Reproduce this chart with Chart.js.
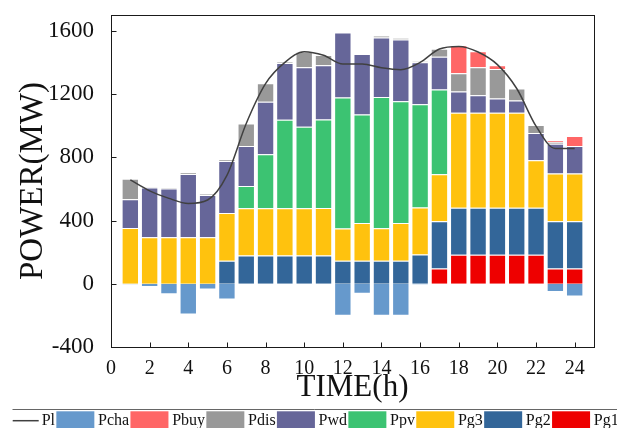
<!DOCTYPE html>
<html>
<head>
<meta charset="utf-8">
<script src="https://cdn.jsdelivr.net/npm/chart.js@4"></script>
<style>
  html, body { margin: 0; padding: 0; background: #fff; overflow: hidden; }
  #wrap { width: 617px; height: 428px; overflow: hidden; }
</style>
</head>
<body>
<div id="wrap"><canvas id="c" width="617" height="428"></canvas></div>
<script>
// ---- data ----
const hours = [1,2,3,4,5,6,7,8,9,10,11,12,13,14,15,16,17,18,19,20,21,22,23,24];
const Pl   = [657,588,540,508,530,686,1014,1266,1400,1468,1445,1390,1390,1366,1354,1400,1485,1501,1466,1386,1235,997,855,855];
const Pg1  = [0,0,0,0,0,0,0,0,0,0,0,0,0,0,0,0,97,183,183,183,183,183,97,97];
const Pg2  = [0,0,0,0,0,146,178,178,178,178,178,146,146,146,146,185,298,298,298,298,298,298,298,298];
const Pg3  = [353,294,294,294,294,301,299,299,299,299,302,203,238,205,238,298,298,600,600,600,600,300,302,302];
const Ppv  = [0,0,0,0,0,0,142,342,560,516,559,829,687,831,771,653,535,0,0,0,0,0,0,0];
const Pwd  = [182,315,309,401,267,330,252,332,359,376,343,412,382,376,390,265,208,135,111,91,78,172,189,174];
const Pdis = [130,4,4,8,6,8,143,118,7,99,65,0,0,11,11,6,51,115,177,187,76,51,11,0];
const Pbuy = [0,0,0,0,0,0,0,0,0,0,0,0,0,0,0,0,0,177,101,23,0,0,8,63];
const Pcha = [-5,-21,-67,-195,-36,-99,0,0,0,0,0,-202,-63,-202,-202,-6,0,0,0,0,0,0,-52,-80];
const xTicks = [0,2,4,6,8,10,12,14,16,18,20,22,24];
const yTicks = [-400,0,400,800,1200,1600];
const legendOrder = ['Pl','Pcha','Pbuy','Pdis','Pwd','Ppv','Pg3','Pg2','Pg1'];

const colors = {
  Pcha: '#6699CC', Pbuy: '#FF6666', Pdis: '#999999', Pwd: '#666699',
  Ppv: '#3CC372', Pg3: '#FFC20E', Pg2: '#336699', Pg1: '#EE0000', Pl: '#404040'
};
const SERIF = '"Liberation Serif", "Times New Roman", serif';

function pts(arr) { return hours.map((h, i) => ({x: h, y: arr[i]})); }
function bar(label, arr) {
  return {
    type: 'bar', label, data: pts(arr),
    backgroundColor: colors[label],
    borderColor: 'rgba(255,255,255,0.45)', borderWidth: 1,
    barPercentage: 1.0, categoryPercentage: 0.9
  };
}

const datasets = [
  {
    type: 'line', label: 'Pl', data: pts(Pl), order: -1,
    borderColor: colors.Pl, borderWidth: 1.5, pointRadius: 0,
    cubicInterpolationMode: 'monotone', fill: false
  },
  bar('Pg1', Pg1), bar('Pg2', Pg2), bar('Pg3', Pg3), bar('Ppv', Ppv),
  bar('Pwd', Pwd), bar('Pdis', Pdis), bar('Pbuy', Pbuy), bar('Pcha', Pcha)
];

const framePlugin = {
  id: 'frame',
  afterDraw(chart) {
    const {ctx, chartArea: a, scales} = chart;
    const L = Math.round(a.left) + 0.5, R = Math.round(a.right) + 0.5;
    const T = Math.round(a.top) + 0.5, B = Math.round(a.bottom) + 0.5;
    ctx.save();
    ctx.strokeStyle = '#1a1a1a';
    ctx.lineWidth = 1;
    ctx.strokeRect(L, T, R - L, B - T);
    ctx.beginPath();
    xTicks.forEach(v => {
      const px = Math.round(scales.x.getPixelForValue(v)) + 0.5;
      ctx.moveTo(px, B); ctx.lineTo(px, B - 5);
    });
    yTicks.forEach(v => {
      const py = Math.round(scales.y.getPixelForValue(v)) + 0.5;
      ctx.moveTo(L, py); ctx.lineTo(L + 5, py);
    });
    ctx.stroke();

    // legend strip
    const top = 409.5;
    ctx.strokeStyle = '#666';
    ctx.beginPath(); ctx.moveTo(12.5, top); ctx.lineTo(chart.width, top); ctx.stroke();
    ctx.font = '16px ' + SERIF;
    ctx.fillStyle = '#111';
    ctx.textBaseline = 'alphabetic';
    let x = 12.7;
    const base = 425.3;
    legendOrder.forEach((lab) => {
      const ds = chart.data.datasets.find(d => d.label === lab);
      if (ds.type === 'line') {
        ctx.strokeStyle = ds.borderColor; ctx.lineWidth = 1.5;
        ctx.beginPath(); ctx.moveTo(x, 420.7); ctx.lineTo(x + 26, 420.7); ctx.stroke();
        x += 26 + 3;
      } else {
        ctx.fillStyle = ds.backgroundColor;
        ctx.fillRect(x, 411.3, 38, 22);
        x += 38 + 3.7;
      }
      ctx.fillStyle = '#111';
      ctx.fillText(lab, x, base);
      x += ctx.measureText(lab).width + 1.3;
    });
    ctx.restore();
  }
};

new Chart(document.getElementById('c'), {
  data: { datasets },
  options: {
    responsive: false,
    devicePixelRatio: 1,
    animation: false,
    layout: { padding: { top: 15, right: 23, bottom: 19, left: 0 } },
    plugins: { legend: { display: false }, tooltip: { enabled: false } },
    scales: {
      x: {
        type: 'linear', min: 0, max: 25, offset: false, stacked: true,
        afterBuildTicks: s => { s.ticks = xTicks.map(v => ({value: v})); },
        afterFit: s => { s.height = 62; s.paddingLeft = 0; s.paddingRight = 0; },
        grid: { display: false },
        border: { display: false },
        ticks: { color: '#111', font: { family: SERIF, size: 20 }, padding: 2, maxRotation: 0, autoSkip: false,
                 callback: v => String(v) },
        title: { display: true, text: 'TIME(h)', color: '#111', font: { family: SERIF, size: 31 }, padding: { top: 0, bottom: 3 } }
      },
      y: {
        type: 'linear', min: -400, max: 1700, stacked: true,
        afterBuildTicks: s => { s.ticks = yTicks.map(v => ({value: v})); },
        afterFit: s => { s.width = 111; s.paddingTop = 0; s.paddingBottom = 0; },
        grid: { display: false },
        border: { display: false },
        ticks: { color: '#111', font: { family: SERIF, size: 23 }, padding: 9,
                 callback: v => String(v) },
        title: { display: true, text: 'POWER(MW)', color: '#111', font: { family: SERIF, size: 33 }, padding: { top: 14, bottom: 0 } }
      }
    }
  },
  plugins: [framePlugin]
});
</script>
</body>
</html>
